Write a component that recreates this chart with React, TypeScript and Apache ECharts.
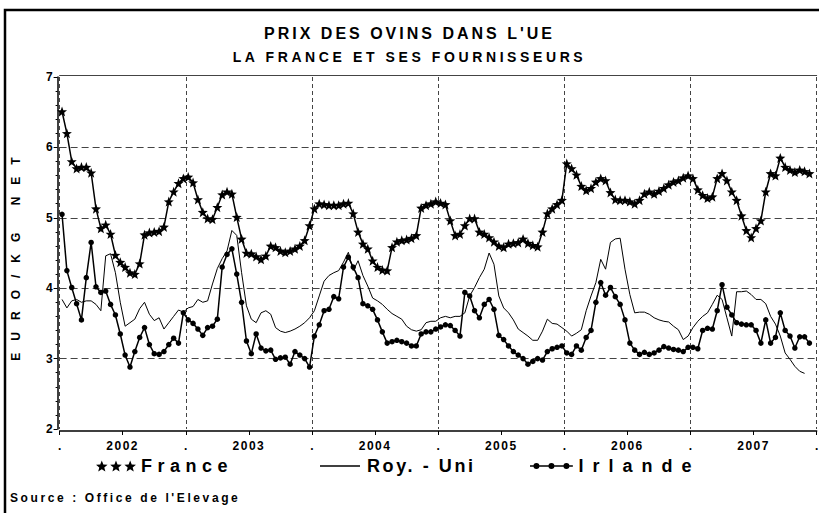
import React, { useEffect, useRef } from 'react';
import * as echarts from 'echarts';

const TITLE = "PRIX DES OVINS DANS L'UE";
const SUBTITLE = 'LA FRANCE ET SES FOURNISSEURS';
const SOURCE = "Source : Office de l'Elevage";
const Y_NAME = 'EURO/KG NET';
const seriesNames = ['France', 'Roy. - Uni', 'Irlande'];
const samplesPerYear = 26; // bi-weekly quotations, starting January 2002

const france = [
  6.51, 6.2, 5.8, 5.7, 5.72, 5.72, 5.64, 5.13, 4.85, 4.9, 4.77, 4.47, 4.37, 4.3, 4.22, 4.2, 4.35, 4.76, 4.79, 4.8, 4.81, 4.87, 5.23, 5.37, 5.49, 5.56,
  5.58, 5.5, 5.26, 5.08, 4.99, 4.98, 5.15, 5.33, 5.37, 5.34, 5.01, 4.7, 4.5, 4.49, 4.45, 4.41, 4.46, 4.6, 4.58, 4.53, 4.51, 4.53, 4.56, 4.6, 4.68, 4.89,
  5.13, 5.2, 5.19, 5.18, 5.18, 5.18, 5.2, 5.21, 5.06, 4.8, 4.63, 4.56, 4.39, 4.3, 4.26, 4.25, 4.58, 4.66, 4.68, 4.69, 4.71, 4.75, 5.14, 5.18, 5.2, 5.23,
  5.21, 5.19, 4.96, 4.75, 4.77, 4.89, 4.99, 4.99, 4.8, 4.77, 4.72, 4.66, 4.6, 4.58, 4.63, 4.64, 4.65, 4.7, 4.64, 4.61, 4.59, 4.8, 5.06, 5.13, 5.19, 5.25,
  5.77, 5.7, 5.61, 5.45, 5.39, 5.42, 5.51, 5.56, 5.53, 5.36, 5.26, 5.25, 5.25, 5.23, 5.2, 5.25, 5.34, 5.37, 5.34, 5.38, 5.42, 5.47, 5.51, 5.53, 5.57, 5.6,
  5.56, 5.4, 5.32, 5.28, 5.3, 5.56, 5.63, 5.53, 5.37, 5.25, 5.03, 4.82, 4.72, 4.85, 4.96, 5.37, 5.63, 5.6, 5.85, 5.72, 5.68, 5.65, 5.68, 5.66, 5.63,
];

const royUni = [
  3.84, 3.72, 3.82, 3.84, 3.8, 3.82, 3.82, 3.77, 3.68, 4.46, 4.49, 4.22, 3.8, 3.46, 3.51, 3.56, 3.71, 3.8, 3.63, 3.54, 3.58, 3.42, 3.51, 3.6, 3.69, 3.66,
  3.72, 3.74, 3.84, 3.8, 3.82, 4.06, 4.28, 4.42, 4.53, 4.82, 4.75, 4.22, 3.75, 3.56, 3.51, 3.65, 3.68, 3.63, 3.44, 3.39, 3.37, 3.39, 3.42, 3.46, 3.51, 3.58,
  3.68, 3.89, 4.1, 4.18, 4.22, 4.25, 4.37, 4.51, 4.25, 4.39, 4.18, 4.03, 3.86, 3.82, 3.77, 3.7, 3.64, 3.6, 3.56, 3.46, 3.41, 3.39, 3.41, 3.51, 3.53, 3.53,
  3.58, 3.6, 3.58, 3.6, 3.6, 3.65, 3.89, 4.01, 4.15, 4.27, 4.5, 4.34, 3.89, 3.72, 3.65, 3.55, 3.42, 3.37, 3.32, 3.26, 3.26, 3.39, 3.56, 3.5, 3.49, 3.44,
  3.39, 3.32, 3.36, 3.41, 3.68, 3.89, 4.08, 4.41, 4.27, 4.65, 4.7, 4.71, 4.27, 3.91, 3.65, 3.66, 3.66, 3.63, 3.58, 3.55, 3.53, 3.52, 3.46, 3.41, 3.27, 3.32,
  3.44, 3.53, 3.6, 3.65, 3.77, 3.9, 3.84, 3.58, 3.32, 3.95, 3.95, 3.96, 3.91, 3.84, 3.84, 3.78, 3.6, 3.49, 3.32, 3.08, 2.99, 2.89, 2.82, 2.79,
];

const irlande = [
  5.05, 4.25, 4.01, 3.78, 3.55, 4.15, 4.65, 4.02, 3.94, 3.96, 3.77, 3.62, 3.35, 3.05, 2.88, 3.1, 3.3, 3.44, 3.2, 3.07, 3.06, 3.1, 3.2, 3.29, 3.22, 3.65,
  3.55, 3.5, 3.42, 3.33, 3.44, 3.46, 3.56, 4.3, 4.48, 4.56, 4.2, 3.8, 3.25, 3.07, 3.35, 3.15, 3.11, 3.12, 2.99, 3.01, 3.02, 2.92, 3.1, 3.05, 3.0, 2.88,
  3.32, 3.48, 3.68, 3.7, 3.88, 3.85, 4.3, 4.44, 4.3, 4.15, 3.78, 3.75, 3.7, 3.55, 3.38, 3.22, 3.24, 3.26, 3.24, 3.22, 3.18, 3.18, 3.35, 3.38, 3.38, 3.42,
  3.45, 3.48, 3.47, 3.4, 3.32, 3.94, 3.89, 3.68, 3.58, 3.77, 3.84, 3.7, 3.33, 3.27, 3.18, 3.1, 3.05, 3.0, 2.92, 2.96, 3.0, 2.98, 3.1, 3.14, 3.16, 3.18,
  3.08, 3.06, 3.18, 3.12, 3.3, 3.4, 3.8, 4.08, 3.9, 4.01, 3.88, 3.77, 3.55, 3.22, 3.12, 3.06, 3.09, 3.06, 3.08, 3.12, 3.17, 3.15, 3.13, 3.12, 3.1, 3.16,
  3.16, 3.14, 3.4, 3.43, 3.42, 3.68, 4.05, 3.73, 3.62, 3.51, 3.49, 3.48, 3.48, 3.4, 3.22, 3.55, 3.22, 3.3, 3.65, 3.4, 3.32, 3.15, 3.31, 3.31, 3.22,
];

const FONT = "'Liberation Sans', Arial, sans-serif";

function toPoints(vals: number[]) {
  return vals.map((v, i) => [2002 + (i + 0.5) / samplesPerYear, v]);
}

function starPoly(cx: number, cy: number, R: number, r: number) {
  const pts: string[] = [];
  for (let i = 0; i < 10; i++) {
    const rad = i % 2 === 0 ? R : r;
    const a = -Math.PI / 2 + (i * Math.PI) / 5;
    pts.push(`${(cx + rad * Math.cos(a)).toFixed(2)} ${(cy + rad * Math.sin(a)).toFixed(2)}`);
  }
  return 'M' + pts.join(' L') + ' Z';
}

const STAR = 'path://' + starPoly(10, 10, 10, 4.2);
const STAR3 = 'path://' + [6, 20, 34].map((c) => starPoly(c, 6, 6, 2.6)).join(' ');
const LINE_ICON = 'path://M0 0 H40 V1.3 H0 Z';
const DOT_ICON =
  'path://M0 2.3 H40 V3.7 H0 Z ' +
  [6, 20, 34].map((c) => `M${c - 2.8} 3 A2.8 2.8 0 1 1 ${c + 2.8} 3 A2.8 2.8 0 1 1 ${c - 2.8} 3 Z`).join(' ');

function spacingFor(s: string): number {
  if (s === TITLE) return 3;
  if (s === SUBTITLE) return 3.6;
  if (s === SOURCE) return 2.6;
  if (s === Y_NAME) return 12;
  if (s === 'France') return 5.5;
  if (s === 'Roy. - Uni') return 2.6;
  if (s === 'Irlande') return 9;
  if (/^\d{4}$/.test(s)) return 1.5;
  return 0;
}

export default function App() {
  const ref = useRef<HTMLDivElement>(null);
  useEffect(() => {
    if (!ref.current) return;
    const chart = echarts.init(ref.current, undefined, { renderer: 'svg' });
    const legendBase = {
      top: 457,
      padding: 0,
      selectedMode: false,
      itemStyle: { color: '#000', borderWidth: 0 },
      textStyle: { fontSize: 18, fontWeight: 'bold', color: '#000', fontFamily: FONT },
    };
    chart.setOption({
      animation: false,
      backgroundColor: '#fff',
      textStyle: { fontFamily: FONT },
      title: [
        { text: TITLE, left: 'center', top: 20, textStyle: { fontSize: 16, fontWeight: 'bold', color: '#000', fontFamily: FONT } },
        { text: SUBTITLE, left: 'center', top: 45, textStyle: { fontSize: 14, fontWeight: 'bold', color: '#000', fontFamily: FONT } },
        { text: SOURCE, left: 5, top: 487, textStyle: { fontSize: 12, fontWeight: 'bold', color: '#000', fontFamily: FONT } },
      ],
      legend: [
        { ...legendBase, left: 96, data: [{ name: 'France', icon: STAR3 }], itemWidth: 40, itemHeight: 11 },
        { ...legendBase, left: 320, data: [{ name: 'Roy. - Uni', icon: LINE_ICON }], itemWidth: 44, itemHeight: 1.3 },
        { ...legendBase, left: 530, data: [{ name: 'Irlande', icon: DOT_ICON }], itemWidth: 44, itemHeight: 6 },
      ],
      graphic: [
        { type: 'rect', shape: { x: 5, y: 10, width: 830, height: 520 }, style: { fill: 'none', stroke: '#000', lineWidth: 2.5 }, z: 100, silent: true },
      ],
      grid: { left: 59.6, right: 2.3, top: 77, bottom: 84, containLabel: false, outerBoundsMode: 'none' },
      xAxis: [
        {
          type: 'value', min: 2002, max: 2008, interval: 0.5, position: 'bottom', offset: 2,
          axisLine: { show: true, onZero: false, lineStyle: { color: '#000', width: 1.5 } },
          axisTick: { show: true, length: 4, lineStyle: { color: '#000' } },
          axisLabel: {
            formatter: (v: number) => (Number.isInteger(v) ? '.' : String(Math.floor(v))),
            fontSize: 12, fontWeight: 'bold', color: '#000', fontFamily: FONT, margin: 9,
            showMinLabel: true, showMaxLabel: true,
          },
          splitLine: { show: false },
        },
        {
          type: 'value', min: 2002, max: 2008, interval: 1, position: 'top', offset: 2,
          axisLine: { show: true, onZero: false, lineStyle: { color: '#444', width: 1 } },
          axisTick: { show: false },
          axisLabel: { show: false },
          splitLine: { show: true, lineStyle: { color: '#444', type: [4, 3], width: 1 } },
        },
      ],
      yAxis: {
        type: 'value', min: 2, max: 7, interval: 1, offset: 2,
        name: Y_NAME, nameLocation: 'middle', nameGap: 36,
        nameTextStyle: { fontSize: 12, fontWeight: 'bold', color: '#000', fontFamily: FONT },
        axisLine: { show: true, lineStyle: { color: '#000', width: 1.5 } },
        axisTick: { show: true, length: 4, lineStyle: { color: '#000' } },
        minorTick: { show: true, splitNumber: 5, length: 2, lineStyle: { color: '#000' } },
        axisLabel: { fontSize: 12, fontWeight: 'bold', color: '#000', fontFamily: FONT, margin: 5 },
        splitLine: { show: true, showMinLine: false, showMaxLine: false, lineStyle: { color: '#444', type: [7, 4], width: 1 } },
      },
      series: [
        {
          name: 'Roy. - Uni', type: 'line', xAxisIndex: 0, data: toPoints(royUni), symbol: 'none',
          lineStyle: { color: '#000', width: 1 }, itemStyle: { color: '#000' },
        },
        {
          name: 'Irlande', type: 'line', xAxisIndex: 0, data: toPoints(irlande), symbol: 'circle', symbolSize: 5.5,
          lineStyle: { color: '#000', width: 1.5 }, itemStyle: { color: '#000' },
        },
        {
          name: 'France', type: 'line', xAxisIndex: 0, data: toPoints(france), symbol: STAR, symbolSize: 10,
          lineStyle: { color: '#000', width: 1.5 }, itemStyle: { color: '#000' },
        },
      ],
    });
    ref.current.querySelectorAll('text').forEach((t) => {
      const sp = spacingFor((t.textContent || '').trim());
      if (sp) t.setAttribute('letter-spacing', String(sp));
    });
    return () => chart.dispose();
  }, []);
  return <div ref={ref} style={{ position: 'absolute', left: 0, top: 0, width: 819, height: 513 }} />;
}
